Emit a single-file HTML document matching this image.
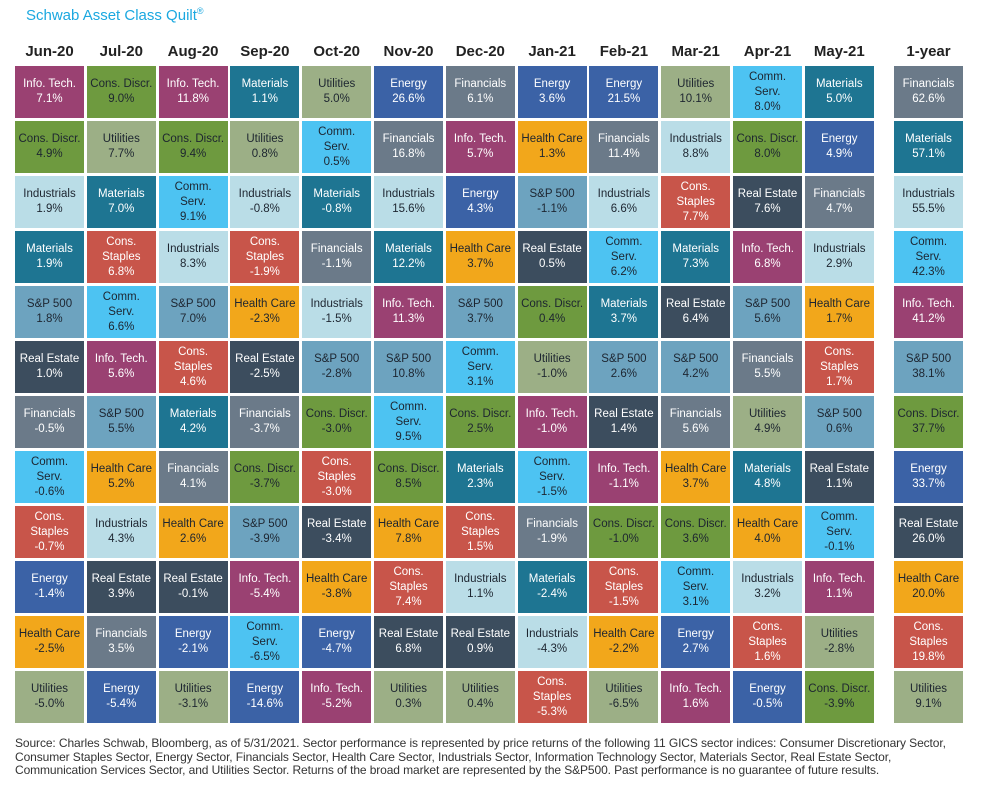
<!DOCTYPE html>
<html><head><meta charset="utf-8"><style>
body{margin:0;width:988px;height:785px;background:#fff;font-family:"Liberation Sans",sans-serif;position:relative;overflow:hidden}
.title{position:absolute;left:26px;top:6px;font-size:15px;color:#1BA8E0}
.title sup{font-size:9px}
.hdr{position:absolute;top:43px;width:72px;text-align:center;font-weight:bold;font-size:15px;color:#222}
.cell{position:absolute;width:69px;height:52px;display:flex;align-items:center;justify-content:center;text-align:center;font-size:11.5px;line-height:15px}
.foot{position:absolute;left:15px;top:737px;width:975px;font-size:12px;line-height:13.5px;color:#333;white-space:nowrap;letter-spacing:-0.1px}
</style></head><body>
<div class="title">Schwab Asset Class Quilt<sup>®</sup></div>
<div id="quilt"></div>
<div class="foot">Source: Charles Schwab, Bloomberg, as of 5/31/2021. Sector performance is represented by price returns of the following 11 GICS sector indices: Consumer Discretionary Sector,<br>Consumer Staples Sector, Energy Sector, Financials Sector, Health Care Sector, Industrials Sector, Information Technology Sector, Materials Sector, Real Estate Sector,<br>Communication Services Sector, and Utilities Sector. Returns of the broad market are represented by the S&amp;P500. Past performance is no guarantee of future results.</div>
<script>
const periods=["Jun-20","Jul-20","Aug-20","Sep-20","Oct-20","Nov-20","Dec-20","Jan-21","Feb-21","Mar-21","Apr-21","May-21","1-year"];
const sectors=[
["IT","CD","IN","MA","SP","RE","FI","CS","ST","EN","HC","UT"],
["CD","UT","MA","ST","CS","IT","SP","HC","IN","RE","FI","EN"],
["IT","CD","CS","IN","SP","ST","MA","FI","HC","RE","EN","UT"],
["MA","UT","IN","ST","HC","RE","FI","CD","SP","IT","CS","EN"],
["UT","CS","MA","FI","IN","SP","CD","ST","RE","HC","EN","IT"],
["EN","FI","IN","MA","IT","SP","CS","CD","HC","ST","RE","UT"],
["FI","IT","EN","HC","SP","CS","CD","MA","ST","IN","RE","UT"],
["EN","HC","SP","RE","CD","UT","IT","CS","FI","MA","IN","ST"],
["EN","FI","IN","CS","MA","SP","RE","IT","CD","ST","HC","UT"],
["UT","IN","ST","MA","RE","SP","FI","HC","CD","CS","EN","IT"],
["CS","CD","RE","IT","SP","FI","UT","MA","HC","IN","ST","EN"],
["MA","EN","FI","IN","HC","ST","SP","RE","CS","IT","UT","CD"],
["FI","MA","IN","CS","IT","SP","CD","EN","RE","HC","ST","UT"]];
const values=[
[7.1,4.9,1.9,1.9,1.8,1.0,-0.5,-0.6,-0.7,-1.4,-2.5,-5.0],
[9.0,7.7,7.0,6.8,6.6,5.6,5.5,5.2,4.3,3.9,3.5,-5.4],
[11.8,9.4,9.1,8.3,7.0,4.6,4.2,4.1,2.6,-0.1,-2.1,-3.1],
[1.1,0.8,-0.8,-1.9,-2.3,-2.5,-3.7,-3.7,-3.9,-5.4,-6.5,-14.6],
[5.0,0.5,-0.8,-1.1,-1.5,-2.8,-3.0,-3.0,-3.4,-3.8,-4.7,-5.2],
[26.6,16.8,15.6,12.2,11.3,10.8,9.5,8.5,7.8,7.4,6.8,0.3],
[6.1,5.7,4.3,3.7,3.7,3.1,2.5,2.3,1.5,1.1,0.9,0.4],
[3.6,1.3,-1.1,0.5,0.4,-1.0,-1.0,-1.5,-1.9,-2.4,-4.3,-5.3],
[21.5,11.4,6.6,6.2,3.7,2.6,1.4,-1.1,-1.0,-1.5,-2.2,-6.5],
[10.1,8.8,7.7,7.3,6.4,4.2,5.6,3.7,3.6,3.1,2.7,1.6],
[8.0,8.0,7.6,6.8,5.6,5.5,4.9,4.8,4.0,3.2,1.6,-0.5],
[5.0,4.9,4.7,2.9,1.7,1.7,0.6,1.1,-0.1,1.1,-2.8,-3.9],
[62.6,57.1,55.5,42.3,41.2,38.1,37.7,33.7,26.0,20.0,19.8,9.1]];
const names={IT:"Info. Tech.",CD:"Cons. Discr.",IN:"Industrials",MA:"Materials",SP:"S&amp;P 500",RE:"Real Estate",FI:"Financials",CS:"Comm.<br>Serv.",ST:"Cons.<br>Staples",EN:"Energy",HC:"Health Care",UT:"Utilities"};
const colors={IT:"#9A4172",CD:"#6E9A3F",IN:"#BADDE7",MA:"#1E7592",SP:"#6DA3BF",RE:"#3C4D5E",FI:"#6B7A89",CS:"#4DC3F2",ST:"#C8554A",EN:"#3B62A6",HC:"#F2A71B",UT:"#9CAF86"};
const dark={CD:1,IN:1,SP:1,CS:1,HC:1,UT:1};
const q=document.getElementById('quilt');
function colX(c){return c<12?15+c*71.8:894;}
function rowY(r){return 66+r*55;}
periods.forEach((p,c)=>{
  const h=document.createElement('div');h.className='hdr';
  
  
  h.style.left=(colX(c)-1.5)+'px';h.textContent=p;q.appendChild(h);
  sectors[c].forEach((s,r)=>{
    const d=document.createElement('div');d.className='cell';
    
    
    d.style.left=colX(c)+'px';d.style.top=rowY(r)+'px';
    d.style.background=colors[s];d.style.color=dark[s]?'#1d2530':'#fff';
    d.innerHTML='<span>'+names[s]+'<br>'+values[c][r].toFixed(1)+'%</span>';
    q.appendChild(d);
  });
});
</script>
</body></html>
